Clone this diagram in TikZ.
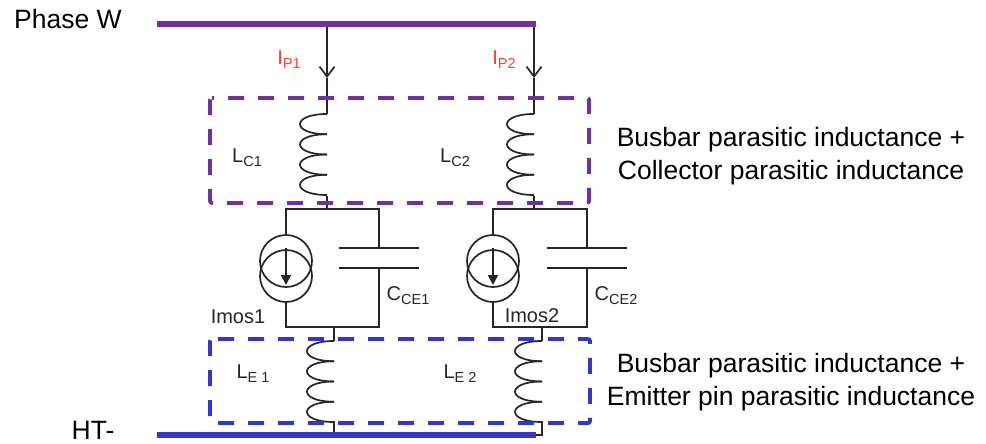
\documentclass[tikz,border=0pt]{standalone}
\usepackage{fontspec}
\setmainfont{Liberation Sans}
\usetikzlibrary{arrows.meta}

\definecolor{busPurple}{HTML}{7030A0}
\definecolor{busBlue}{HTML}{3535CC}
\definecolor{currRed}{HTML}{FF3B3B}
\definecolor{txtGrey}{HTML}{262626}

\tikzset{
	wire/.style={line width=1.7pt, color=black!85},
	busbar/.style={line width=6.6pt},
	dashbox/.style={line width=3.8pt, rounded corners=2pt},
	lbl/.style={inner sep=0pt, text=txtGrey, font=\fontsize{20}{20}\selectfont},
	bigl/.style={inner sep=0pt, text=black, font=\fontsize{26.5}{26.5}\selectfont},
	note/.style={inner sep=0pt, text=black, align=center, font=\fontsize{26.5}{33}\selectfont},
	srcring/.style={circle, draw, wire, minimum size=52pt, inner sep=0pt}
}

% letter with a small index
\newcommand{\lsub}[2]{#1\raisebox{-4pt}{\fontsize{14.5}{14.5}\selectfont #2}}

% four loops, hanging to the left of the wire
\newcommand{\pcoil}[2]{
	\pgfmathsetmacro{\PCx}{#1}
	\pgfmathsetmacro{\PCb}{#1-36}
	\foreach \k in {0,1,2,3}{
		\pgfmathsetmacro{\PCya}{#2+\k*20.25}
		\pgfmathsetmacro{\PCyb}{\PCya+20.25}
		\draw[wire] (\PCx, \PCya) .. controls (\PCb, \PCya) and (\PCb, \PCyb) .. (\PCx, \PCyb);
	}
}

% source and capacitor between two rails
\newcommand{\pcell}[3]{
	\coordinate (tl#1) at (#2,209);
	\coordinate (tr#1) at (#3,209);
	\coordinate (bl#1) at (#2,327);
	\coordinate (br#1) at (#3,327);
	\coordinate (pa#1) at (#3,248);
	\coordinate (pb#1) at (#3,268);
	\node[srcring] (su#1) at (#2,261) {};
	\node[srcring] (sl#1) at (#2,276) {};
	\coordinate (aa#1) at (#2,248);
	\coordinate (ab#1) at (#2,285);
	\draw[wire] (su#1.north) -- (tl#1) -- (tr#1) -- (pa#1);
	\draw[wire] (sl#1.south) -- (bl#1) -- (br#1) -- (pb#1);
	\draw[wire] ([xshift=-40pt]pa#1) -- ([xshift=40pt]pa#1);
	\draw[wire] ([xshift=-40pt]pb#1) -- ([xshift=40pt]pb#1);
	\draw[wire, -{Triangle[length=10pt,width=10pt]}] (aa#1) -- (ab#1);
}

\begin{document}
\begin{tikzpicture}[x=1pt, y=-1pt]
\useasboundingbox (0,0) rectangle (986,444);

\coordinate (barWa) at (157,24);
\coordinate (barWb) at (536,24);
\coordinate (barHa) at (157,435);
\coordinate (barHb) at (536,435);

\coordinate (wa) at (327,24);
\coordinate (wb) at (534,24);
\coordinate (wc) at (327,78);
\coordinate (wd) at (534,78);
\coordinate (we) at (327,114);
\coordinate (wf) at (534,114);
\coordinate (wg) at (327,196);
\coordinate (wh) at (534,196);
\coordinate (wi) at (327,209);
\coordinate (wj) at (534,209);

\coordinate (ea) at (334,327);
\coordinate (eb) at (542,327);
\coordinate (ec) at (334,341);
\coordinate (ed) at (542,341);
\coordinate (ee) at (334,421);
\coordinate (ef) at (542,421);
\coordinate (eg) at (334,435);
\coordinate (eh) at (542,435);

\draw[wire, -{Straight Barb[length=10pt,width=15pt]}] (wa) -- (wc);
\draw[wire, -{Straight Barb[length=10pt,width=15pt]}] (wb) -- (wd);
\draw[wire] (wc) -- (we);
\draw[wire] (wd) -- (wf);
\draw[wire] (wg) -- (wi);
\draw[wire] (wh) -- (wj);
\pcoil{327}{114}
\pcoil{534}{114}

\pcell{1}{286}{379}
\pcell{2}{493}{587}

\draw[wire] (ea) -- (ec);
\draw[wire] (eb) -- (ed);
\draw[wire] (ee) -- (eg);
\draw[wire] (ef) -- (eh) -- (barHb);
\pcoil{334}{341}
\pcoil{542}{341}

\draw[dashbox, busPurple, dash pattern=on 16pt off 14pt, dash phase=14pt] (210,98) -- (589,98) -- (589,203) -- (210,203) -- cycle;
\draw[dashbox, busBlue, dash pattern=on 16pt off 14pt, dash phase=24pt] (210,339) -- (590,339) -- (590,423) -- (210,423) -- cycle;

\draw[busbar, busPurple] (barWa) -- (barWb);
\draw[busbar, busBlue] (barHa) -- (barHb);

\node[bigl] (phase) at (68,19) {Phase W};
\node[bigl] (htm) at (93,430) {HT-};

\node[lbl, text=currRed] (ipa) at (289,60) {\lsub{I}{P1}};
\node[lbl, text=currRed] (ipb) at (504,60) {\lsub{I}{P2}};
\node[lbl] (lca) at (247,158) {\lsub{L}{C1}};
\node[lbl] (lcb) at (455,158) {\lsub{L}{C2}};
\node[lbl] (cca) at (408,296) {\lsub{C}{CE1}};
\node[lbl] (ccb) at (616,296) {\lsub{C}{CE2}};
\node[lbl] (ima) at (238,317) {Imos1};
\node[lbl] (imb) at (532,316) {Imos2};
\node[lbl] (lea) at (253,374) {\lsub{L}{E 1}};
\node[lbl] (leb) at (460,374) {\lsub{L}{E 2}};

\node[note] (noteC) at (791,156) {Busbar parasitic inductance +\\Collector parasitic inductance};
\node[note] (noteE) at (791,382) {Busbar parasitic inductance +\\Emitter pin parasitic inductance};
\end{tikzpicture}
\end{document}
